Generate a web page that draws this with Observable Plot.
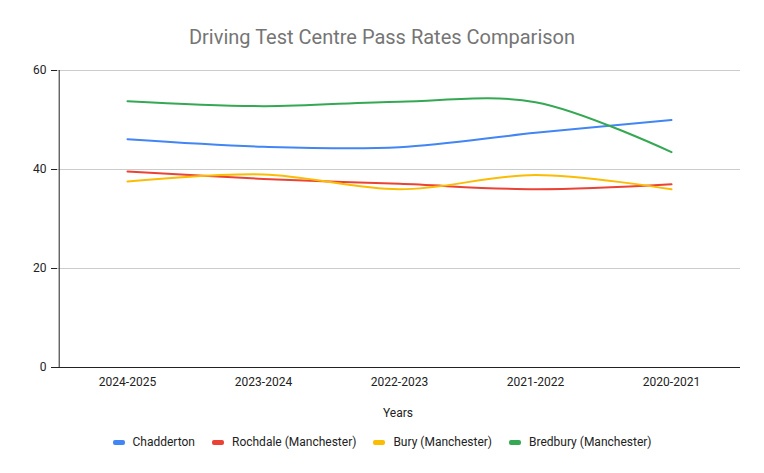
<!DOCTYPE html>
<html>
<head>
<meta charset="utf-8">
<script src="https://cdn.jsdelivr.net/npm/d3@7"></script>
<script src="https://cdn.jsdelivr.net/npm/@observablehq/plot@0.6"></script>
<style>
  body { margin: 0; background: #fff; font-family: Roboto, Arial, sans-serif; }
  #wrap { width: 764px; height: 473px; position: relative; }
  #title { height: 60px; line-height: 74px; text-align: center; font-size: 20px; color: #757575; }
  #xlabel { text-align: center; font-size: 12px; color: #222; padding-left: 32px; height: 20px; line-height: 20px; margin-top: 1px; }
  #legend { display: flex; justify-content: center; gap: 17px; font-size: 12px; color: #222; margin-top: 12px; }
  .item { display: flex; align-items: center; gap: 8px; }
  .sw { width: 12px; height: 5px; border-radius: 2px; display: inline-block; }
  svg { display: block; }
</style>
</head>
<body>
<div id="wrap">
  <div id="title">Driving Test Centre Pass Rates Comparison</div>
  <div id="chart"></div>
  <div id="xlabel">Years</div>
  <div id="legend"></div>
</div>
<script>
const years = ["2024-2025", "2023-2024", "2022-2023", "2021-2022", "2020-2021"];
const seriesNames = ["Chadderton", "Rochdale (Manchester)", "Bury (Manchester)", "Bredbury (Manchester)"];
const colors = ["#4285F4", "#EA4335", "#FBBC04", "#34A853"];
const chadderton = [46.1, 44.6, 44.5, 47.4, 50.0];
const rochdale = [39.6, 38.1, 37.1, 36.0, 37.0];
const bury = [37.6, 39.0, 36.0, 38.9, 36.0];
const bredbury = [53.8, 52.8, 53.7, 53.6, 43.5];
const yTicks = [0, 20, 40, 60];

const allValues = [chadderton, rochdale, bury, bredbury];
const data = [];
seriesNames.forEach((s, i) => years.forEach((y, j) => data.push({series: s, year: y, value: allValues[i][j]})));

const chart = Plot.plot({
  width: 764,
  height: 342,
  marginLeft: 57,
  marginRight: 24,
  marginTop: 10,
  marginBottom: 35,
  style: {fontFamily: "Roboto, Arial, sans-serif", fontSize: "12px", color: "#222"},
  x: {type: "point", domain: years, padding: 0.5, label: null},
  y: {domain: [0, 60], label: null},
  color: {domain: seriesNames, range: colors},
  marks: [
    Plot.gridY(yTicks, {stroke: "#cccccc", strokeOpacity: 1}),
    Plot.axisY(yTicks, {tickSize: 6, tickPadding: 5, stroke: "#222", fontSize: 12}),
    Plot.axisX({tickSize: 0, tickPadding: 10, fontSize: 12, label: null}),
    Plot.ruleY([0], {stroke: "#222"}),
    Plot.ruleX([0], {x: () => years[0], stroke: "#222", dx: -68.3, y1: 0, y2: 60}),
    Plot.line(data, {x: "year", y: "value", z: "series", stroke: "series", strokeWidth: 2, curve: "catmull-rom"})
  ]
});
document.getElementById("chart").appendChild(chart);

const legend = document.getElementById("legend");
seriesNames.forEach((s, i) => {
  const it = document.createElement("div");
  it.className = "item";
  const sw = document.createElement("span");
  sw.className = "sw";
  sw.style.background = colors[i];
  const t = document.createElement("span");
  t.textContent = s;
  it.appendChild(sw); it.appendChild(t);
  legend.appendChild(it);
});
</script>
</body>
</html>
